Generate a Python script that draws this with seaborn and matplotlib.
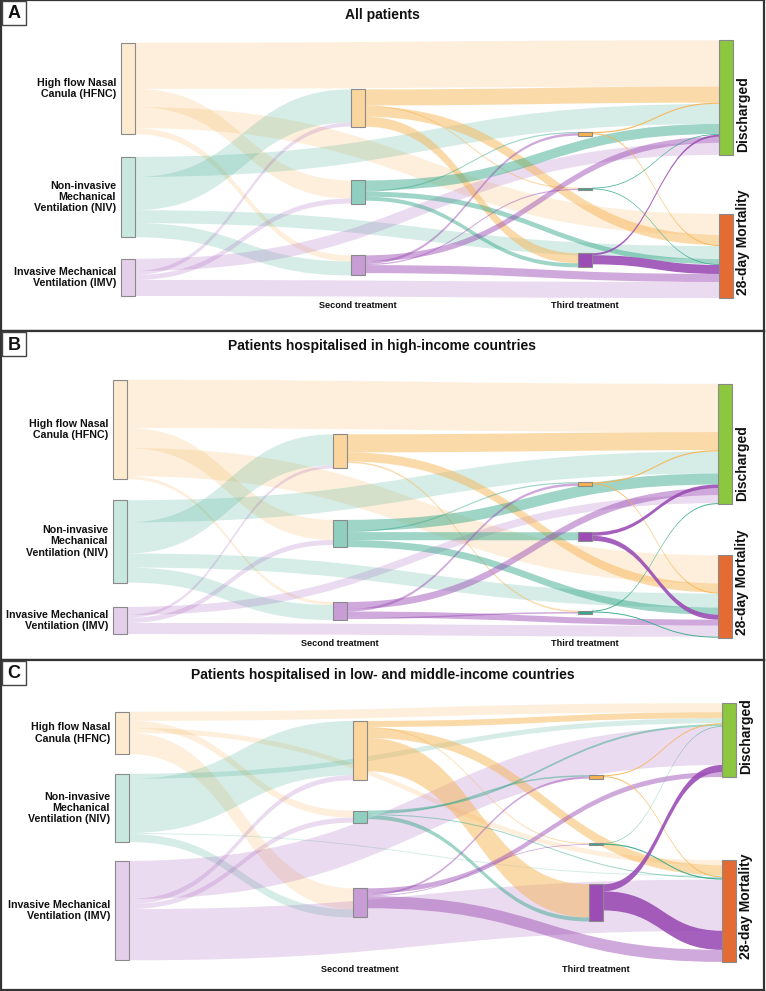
import numpy as np
import pandas as pd
import matplotlib.pyplot as plt
import seaborn as sns
from matplotlib.patches import Rectangle, PathPatch
from matplotlib.path import Path

# ---- nodes: first, second, third treatment and outcome ----
nodes = ["HFNC1", "NIV1", "IMV1", "HFNC2", "NIV2", "IMV2",
         "HFNC3", "NIV3", "IMV3", "Discharged", "Mortality"]
node_column = [0, 0, 0, 1, 1, 1, 2, 2, 2, 3, 3]
node_kind = ["HFNC", "NIV", "IMV"] * 3 + ["Discharged", "Mortality"]

first_labels = ["High flow Nasal\nCanula (HFNC)",
                "Non-invasive\nMechanical\nVentilation (NIV)",
                "Invasive Mechanical\nVentilation (IMV)"]
outcome_labels = ["Discharged", "28-day Mortality"]
step_labels = ["Second treatment", "Third treatment"]
titles = ["All patients",
          "Patients hospitalised in high-income countries",
          "Patients hospitalised in low- and middle-income countries"]
letters = ["A", "B", "C"]

# ---- links (index into nodes), same list for every panel ----
link_source = [0, 0, 0, 0, 1, 1, 1, 1, 2, 2, 2, 2,
               3, 3, 3, 3, 4, 4, 4, 4, 5, 5, 5, 5,
               6, 6, 7, 7, 8, 8]
link_target = [9, 4, 10, 5, 9, 3, 10, 5, 9, 3, 4, 10,
               9, 7, 10, 8, 9, 6, 10, 8, 9, 6, 7, 10,
               9, 10, 9, 10, 9, 10]

# patients per link, estimated from the band widths
values_all = [460, 180, 210, 60, 200, 330, 130, 140, 120, 40, 50, 160,
              160, 12, 100, 100, 100, 12, 50, 40, 60, 25, 12, 80,
              12, 10, 8, 8, 20, 90]
values_hic = [480, 200, 280, 30, 220, 310, 140, 150, 80, 30, 50, 110,
              180, 15, 90, 0, 110, 12, 70, 80, 70, 25, 15, 60,
              12, 10, 10, 10, 35, 50]
values_lmic = [90, 70, 50, 210, 50, 540, 10, 80, 380, 50, 50, 510,
               60, 10, 100, 330, 20, 15, 10, 40, 50, 20, 8, 120,
               10, 10, 5, 12, 70, 190]
panel_values = [values_all, values_hic, values_lmic]

base_colors = {"HFNC": "#F7B24F", "NIV": "#35A88A", "IMV": "#9B4DB5",
               "Discharged": "#8DC63F", "Mortality": "#E46C34"}

# ---- page layout (pixels) ----
W, H = 766, 991
panel_rows = [(0, 331), (331, 660), (660, 990)]
panel_cols_x = [[120, 350, 577, 718], [112, 332, 577, 717], [114, 352, 588, 721]]
panel_extent = [(41, 296), (49, 304), (45, 301)]
# vertical node centres as a fraction of the extent (like plotly node.y)
panel_node_y = [
    [0.186, 0.612, 0.927, 0.263, 0.592, 0.880, 0.364, 0.580, 0.860, 0.222, 0.843],
    [0.194, 0.633, 0.943, 0.280, 0.602, 0.906, 0.408, 0.910, 0.614, 0.251, 0.849],
    [0.109, 0.402, 0.803, 0.178, 0.436, 0.773, 0.281, 0.543, 0.773, 0.137, 0.805],
]
node_w = 14
pad = 23


def sankey_layout(values, cols_x, extent, node_y):
    top, bottom = extent
    n = len(nodes)
    links = [dict(s=s, t=t, v=v, i=k) for k, (s, t, v)
             in enumerate(zip(link_source, link_target, values)) if v > 0]
    src_links = [[l for l in links if l["s"] == i] for i in range(n)]
    tgt_links = [[l for l in links if l["t"] == i] for i in range(n)]
    value = np.array([max(sum(l["v"] for l in src_links[i]),
                          sum(l["v"] for l in tgt_links[i])) for i in range(n)], dtype=float)
    columns = [[i for i in range(n) if node_column[i] == c] for c in range(4)]
    ky = min((bottom - top - (len(c) - 1) * pad) / value[c].sum() for c in columns)
    centre = top + np.array(node_y) * (bottom - top)
    y0 = centre - value * ky / 2
    y1 = centre + value * ky / 2
    for l in links:
        l["w"] = l["v"] * ky
    # stack the bands on every node, ordered by the position of the other end
    for i in range(n):
        src_links[i].sort(key=lambda l: (y0[l["t"]], l["i"]))
        tgt_links[i].sort(key=lambda l: (y0[l["s"]], l["i"]))
        y = y0[i]
        for l in src_links[i]:
            l["ys"] = y + l["w"] / 2
            y += l["w"]
        y = y0[i]
        for l in tgt_links[i]:
            l["yt"] = y + l["w"] / 2
            y += l["w"]
    x0 = np.array([cols_x[node_column[i]] for i in range(n)], dtype=float)
    node_df = pd.DataFrame({"node": nodes, "x0": x0, "x1": x0 + node_w, "y0": y0, "y1": y1})
    return node_df, links


sns.set_style("white")
plt.rcParams["font.family"] = ["Liberation Sans", "DejaVu Sans"]
plt.rcParams["font.weight"] = "bold"

fig = plt.figure(figsize=(W / 100, H / 100), dpi=100)

link_alpha = [0.2, 0.48, 0.9]
node_level = [0.27, 0.55, 1.0]

for p in range(3):
    top_px, bot_px = panel_rows[p]
    ph = bot_px - top_px
    ax = fig.add_axes([1 / W, 1 - bot_px / H, (W - 3) / W, ph / H])
    ax.set_xlim(0, W - 3)
    ax.set_ylim(ph, 0)
    ax.set_xticks([])
    ax.set_yticks([])
    for s in ax.spines.values():
        s.set_color("#333333")
        s.set_linewidth(1.6)

    node_df, links = sankey_layout(panel_values[p], panel_cols_x[p],
                                   panel_extent[p], panel_node_y[p])

    # links, pale first-step bands underneath
    for l in sorted(links, key=lambda l: node_column[l["s"]]):
        a = node_df.iloc[l["s"]]
        b = node_df.iloc[l["t"]]
        xs, xt = a.x1, b.x0
        xm = (xs + xt) / 2
        ys, yt, hw = l["ys"], l["yt"], l["w"] / 2
        verts = [(xs, ys - hw), (xm, ys - hw), (xm, yt - hw), (xt, yt - hw),
                 (xt, yt + hw), (xm, yt + hw), (xm, ys + hw), (xs, ys + hw), (xs, ys - hw)]
        codes = [Path.MOVETO, Path.CURVE4, Path.CURVE4, Path.CURVE4,
                 Path.LINETO, Path.CURVE4, Path.CURVE4, Path.CURVE4, Path.CLOSEPOLY]
        col = base_colors[node_kind[l["s"]]]
        ax.add_patch(PathPatch(Path(verts, codes), facecolor=col, edgecolor="none",
                               alpha=link_alpha[node_column[l["s"]]], zorder=1 + node_column[l["s"]]))

    # nodes
    for i, r in node_df.iterrows():
        c = node_column[i]
        kind = node_kind[i]
        if c < 3:
            shades = sns.blend_palette(["#ffffff", base_colors[kind]], 101)
            fc = shades[int(round(node_level[c] * 100))]
        else:
            fc = base_colors[kind]
        ax.add_patch(Rectangle((r.x0, r.y0), node_w, r.y1 - r.y0, facecolor=fc,
                               edgecolor="#8a8a8a", linewidth=0.8, zorder=10))

    # first column labels
    for k in range(3):
        r = node_df.iloc[k]
        ax.text(r.x0 - 5, (r.y0 + r.y1) / 2, first_labels[k], ha="right", va="center",
                multialignment="right", fontsize=7.7, fontweight="bold",
                linespacing=1.15, color="#111111", zorder=12)
    # outcome labels
    for k, i in enumerate([9, 10]):
        r = node_df.iloc[i]
        ax.text(r.x1 + 10, r.y1 - 3, outcome_labels[k], rotation=90, ha="center",
                va="bottom", fontsize=10, fontweight="bold", color="#111111", zorder=12)
    # step labels
    ext_bottom = panel_extent[p][1]
    for k, c in enumerate([1, 2]):
        xc = panel_cols_x[p][c] + node_w / 2
        ax.text(xc, ext_bottom + 9, step_labels[k], ha="center", va="center",
                fontsize=6.6, fontweight="bold", color="#111111")

    ax.text((W - 3) / 2, 15, titles[p], ha="center", va="center", fontsize=10,
            fontweight="bold", color="#111111")
    ax.add_patch(Rectangle((1, 1), 24, 24, facecolor="white", edgecolor="#444444",
                           linewidth=1.0, zorder=20))
    ax.text(13, 14, letters[p], ha="center", va="center", fontsize=13,
            fontweight="bold", color="#111111", zorder=21)

fig.savefig("out.png", dpi=100)
